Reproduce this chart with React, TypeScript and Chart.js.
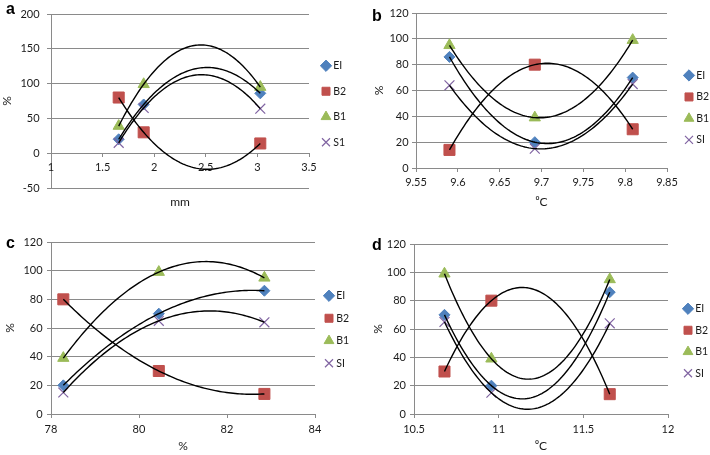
import React, { useEffect, useRef } from 'react';
import { Chart, registerables } from 'chart.js';

Chart.register(...registerables);
Chart.defaults.font.family = 'Lato, "Liberation Sans", sans-serif';

// ---------- data ----------
const seriesNamesA = ['EI', 'B2', 'B1', 'S1'];
const seriesNamesB = ['EI', 'B2', 'B1', 'SI'];

const aX = [1.656, 1.898, 3.028];
const aEI = [20, 70, 86];
const aB2 = [80, 30, 14];
const aB1 = [39, 99, 95];
const aS1 = [15, 65, 64];
const aXTicks = [1, 1.5, 2, 2.5, 3, 3.5];
const aYTicks = [-50, 0, 50, 100, 150, 200];

const bX = [9.59, 9.692, 9.809];
const bEI = [86, 20, 70];
const bB2 = [14, 80, 30];
const bB1 = [95, 39, 99];
const bSI = [64, 15, 65];
const bXTicks = [9.55, 9.6, 9.65, 9.7, 9.75, 9.8, 9.85];
const bYTicks = [0, 20, 40, 60, 80, 100, 120];

const cX = [78.28, 80.45, 82.85];
const cEI = [20, 70, 86];
const cB2 = [80, 30, 14];
const cB1 = [39, 99, 95];
const cSI = [15, 65, 64];
const cXTicks = [78, 80, 82, 84];
const cYTicks = [0, 20, 40, 60, 80, 100, 120];

const dX = [10.68, 10.957, 11.656];
const dEI = [70, 20, 86];
const dB2 = [30, 80, 14];
const dB1 = [99, 39, 95];
const dSI = [65, 15, 64];
const dXTicks = [10.5, 11, 11.5, 12];
const dYTicks = [0, 20, 40, 60, 80, 100, 120];

// ---------- styles ----------
const GRID = '#8a8a8a';
const TEXT = '#1a1a1a';
const MARKERS = [
  { pointStyle: 'rectRot', radius: 5.5, color: '#4F81BD' },
  { pointStyle: 'rect', radius: 7.8, color: '#C0504D' },
  { pointStyle: 'triangle', radius: 6.5, color: '#9BBB59' },
  { pointStyle: 'crossRot', radius: 7, color: '#8064A2' },
];

// Polynomial (order 2) trendline through the series, like the spreadsheet trendline
function polyTrendline(xs: number[], ys: number[], n = 90) {
  const [x0, x1, x2] = xs;
  const [y0, y1, y2] = ys;
  const f = (x: number) =>
    (y0 * (x - x1) * (x - x2)) / ((x0 - x1) * (x0 - x2)) +
    (y1 * (x - x0) * (x - x2)) / ((x1 - x0) * (x1 - x2)) +
    (y2 * (x - x0) * (x - x1)) / ((x2 - x0) * (x2 - x1));
  const pts: { x: number; y: number }[] = [];
  for (let i = 0; i <= n; i++) {
    const x = x0 + ((x2 - x0) * i) / n;
    pts.push({ x, y: f(x) });
  }
  return pts;
}

type PanelDef = {
  letter: string;
  left: number;
  top: number;
  w: number;
  h: number;
  x: number[];
  series: number[][];
  names: string[];
  xTicks: number[];
  yTicks: number[];
  xTitle: string;
  axisAtZero: boolean;
  chartLeft: number;
  chartTop: number;
  xAxisH: number;
  dummyW: number;
  legendW: number;
  legendPad: number;
  legendT: number;
  xTickPad: number;
  xTitlePadB: number;
  yTitlePad: number;
  yTickPad: number;
  letterLeft: number;
  letterTop: number;
};

const panels: PanelDef[] = [
  {
    letter: 'a', left: 0, top: 0, w: 355, h: 228,
    x: aX, series: [aEI, aB2, aB1, aS1], names: seriesNamesA,
    xTicks: aXTicks, yTicks: aYTicks, xTitle: 'mm', axisAtZero: true,
    chartLeft: 51, chartTop: 9, xAxisH: 40, dummyW: 0, legendW: 46,
    legendPad: 15, legendT: 31.5, xTickPad: 4, xTitlePadB: 18.8, yTitlePad: 0, yTickPad: 7.4,
    letterLeft: 6, letterTop: 0.5,
  },
  {
    letter: 'b', left: 355, top: 0, w: 355, h: 228,
    x: bX, series: [bEI, bB2, bB1, bSI], names: seriesNamesB,
    xTicks: bXTicks, yTicks: bYTicks, xTitle: '\u2070C', axisAtZero: false,
    chartLeft: 61, chartTop: 13, xAxisH: 60, dummyW: 9, legendW: 34,
    legendPad: 11, legendT: 46.2, xTickPad: 4.1, xTitlePadB: 19.1, yTitlePad: 16.8, yTickPad: 3.4,
    letterLeft: 372, letterTop: 8.2,
  },
  {
    letter: 'c', left: 0, top: 228, w: 355, h: 227,
    x: cX, series: [cEI, cB2, cB1, cSI], names: seriesNamesB,
    xTicks: cXTicks, yTicks: cYTicks, xTitle: '%', axisAtZero: false,
    chartLeft: 51, chartTop: 14, xAxisH: 41, dummyW: 0, legendW: 40,
    legendPad: 12, legendT: 36.5, xTickPad: 5.1, xTitlePadB: 1.5, yTitlePad: 2.8, yTickPad: 4.4,
    letterLeft: 6, letterTop: 234.5,
  },
  {
    letter: 'd', left: 355, top: 228, w: 355, h: 227,
    x: dX, series: [dEI, dB2, dB1, dSI], names: seriesNamesB,
    xTicks: dXTicks, yTicks: dYTicks, xTitle: '\u2070C', axisAtZero: false,
    chartLeft: 59, chartTop: 16, xAxisH: 41, dummyW: 7, legendW: 35,
    legendPad: 11, legendT: 48.5, xTickPad: 5, xTitlePadB: 1.5, yTitlePad: 15.5, yTickPad: 4,
    letterLeft: 372, letterTop: 236.8,
  },
];

function buildConfig(p: PanelDef): any {
  const xMin = p.xTicks[0];
  const xMax = p.xTicks[p.xTicks.length - 1];
  const yMin = p.yTicks[0];
  const yMax = p.yTicks[p.yTicks.length - 1];
  const fmt = (v: any) => String(+(+v).toFixed(4));

  const markerSets = p.series.map((ys, i) => ({
    type: 'scatter',
    label: p.names[i],
    data: p.x.map((x, j) => ({ x, y: ys[j] })),
    pointStyle: MARKERS[i].pointStyle,
    pointRadius: MARKERS[i].radius,
    pointHoverRadius: MARKERS[i].radius,
    backgroundColor: MARKERS[i].color,
    borderColor: MARKERS[i].color,
    pointBorderWidth: i === 3 ? 1.2 : 1,
    showLine: false,
    order: 5 - i,
  }));
  const trendSets = p.series.map((ys, i) => ({
    type: 'line',
    label: 'trend ' + p.names[i],
    data: polyTrendline(p.x, ys),
    borderColor: '#000',
    borderWidth: 1.4,
    pointRadius: 0,
    showLine: true,
    fill: false,
    tension: 0,
    order: 0,
  }));

  const scales: any = {
    x: {
      type: 'linear',
      position: 'bottom',
      min: xMin,
      max: xMax,
      afterBuildTicks: (ax: any) => { ax.ticks = p.xTicks.map((value) => ({ value })); },
      ticks: { display: !p.axisAtZero, padding: p.xTickPad, color: TEXT, font: { size: 11 }, callback: fmt, maxRotation: 0 },
      grid: { display: !p.axisAtZero, drawOnChartArea: false, drawTicks: !p.axisAtZero, tickLength: 4, color: GRID },
      border: { display: !p.axisAtZero, color: GRID },
      title: { display: true, text: p.xTitle, color: TEXT, font: { size: 12 }, padding: { top: 0, bottom: p.xTitlePadB } },
      afterFit: (s: any) => { s.height = p.xAxisH; },
    },
    y: {
      type: 'linear',
      position: 'left',
      min: yMin,
      max: yMax,
      afterBuildTicks: (ax: any) => { ax.ticks = p.yTicks.map((value) => ({ value })); },
      ticks: { padding: p.yTickPad, color: TEXT, font: { size: 11 }, callback: fmt },
      grid: { color: GRID, drawTicks: true, tickLength: 4, lineWidth: 1 },
      border: { display: true, color: GRID },
      title: { display: true, text: '%', color: TEXT, font: { size: 12 }, padding: { top: p.yTitlePad, bottom: 0 } },
      afterFit: (s: any) => { s.width = p.chartLeft; },
    },
    yR: {
      type: 'linear',
      axis: 'y',
      position: 'right',
      display: true,
      min: 0,
      max: 1,
      ticks: { display: false },
      grid: { display: false, drawTicks: false },
      border: { display: false },
      afterFit: (s: any) => { s.width = p.dummyW; },
    },
  };
  if (p.axisAtZero) {
    scales.xz = {
      type: 'linear',
      axis: 'x',
      position: { y: 0 },
      min: xMin,
      max: xMax,
      afterBuildTicks: (ax: any) => { ax.ticks = p.xTicks.map((value) => ({ value })); },
      ticks: { padding: p.xTickPad, color: TEXT, font: { size: 11 }, callback: fmt, maxRotation: 0 },
      grid: { drawOnChartArea: false, drawTicks: true, tickLength: 4, color: GRID },
      border: { display: false },
      afterFit: (s: any) => { s.height = 0; },
    };
  }

  return {
    type: 'scatter',
    data: { datasets: [...markerSets, ...trendSets] },
    options: {
      responsive: false,
      animation: false,
      events: [],
      layout: { padding: { left: 0, right: 0, top: p.chartTop, bottom: 0 } },
      scales,
      plugins: {
        tooltip: { enabled: false },
        legend: {
          display: true,
          position: 'right',
          align: 'start',
          fullSize: false,
          maxWidth: p.legendW,
          title: { display: true, text: ' ', font: { size: 1 }, padding: { top: p.legendT - 1.2, bottom: 0 } },
          labels: {
            usePointStyle: true,
            boxWidth: 4,
            boxHeight: 8,
            padding: p.legendPad,
            color: TEXT,
            font: { size: 10.5 },
            filter: (item: any) => item.datasetIndex < 4,
            sort: (a: any, b: any) => a.datasetIndex - b.datasetIndex,
          },
        },
      },
    },
  };
}

function PanelChart({ p }: { p: PanelDef }) {
  const ref = useRef<HTMLCanvasElement>(null);
  useEffect(() => {
    const chart = new Chart(ref.current as HTMLCanvasElement, buildConfig(p));
    return () => chart.destroy();
  }, [p]);
  return (
    <canvas
      ref={ref}
      width={p.w}
      height={p.h}
      style={{ position: 'absolute', left: p.left, top: p.top, width: p.w, height: p.h }}
    />
  );
}

export default function App() {
  return (
    <div style={{ position: 'fixed', left: 0, top: 0, width: 710, height: 455, background: '#fff', overflow: 'hidden' }}>
      {panels.map((p) => (
        <PanelChart key={p.letter} p={p} />
      ))}
      {panels.map((p) => (
        <div
          key={'l' + p.letter}
          style={{
            position: 'absolute',
            left: p.letterLeft,
            top: p.letterTop,
            font: 'bold 16px "Liberation Sans", Arial, sans-serif',
            lineHeight: '16px',
            color: '#000',
          }}
        >
          {p.letter}
        </div>
      ))}
    </div>
  );
}
